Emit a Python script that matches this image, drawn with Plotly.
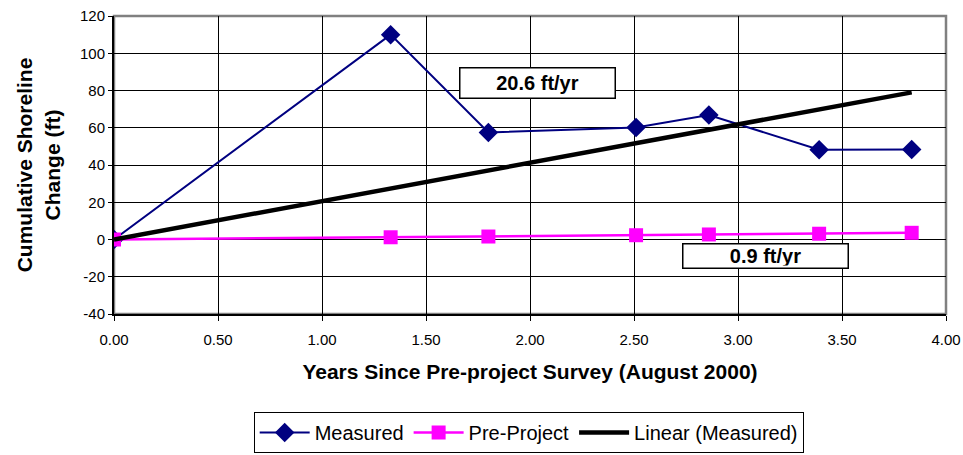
import plotly.graph_objects as go

# Survey times (years since the August 2000 pre-project survey)
years = [0.00, 1.33, 1.80, 2.51, 2.86, 3.39, 3.835]

# Cumulative shoreline change (ft)
measured = [0.0, 110.0, 57.5, 60.2, 66.8, 48.2, 48.3]
pre_project = [0.0, 1.2, 1.6, 2.3, 2.7, 3.1, 3.6]

# Linear trend through the origin for the measured series (ft/yr)
measured_rate = 20.6
pre_project_rate = 0.9
trend = [measured_rate * t for t in years]

x_ticks = [0.0, 0.5, 1.0, 1.5, 2.0, 2.5, 3.0, 3.5, 4.0]
y_ticks = [-40, -20, 0, 20, 40, 60, 80, 100, 120]
y_tick_labels = [str(v) for v in y_ticks]

FONT = "Liberation Sans, Arial, sans-serif"

fig = go.Figure()

fig.add_trace(go.Scatter(
    x=years, y=measured, name="Measured", mode="lines+markers",
    line=dict(color="#000080", width=2),
    marker=dict(symbol="diamond", size=15, color="#000080"),
))
fig.add_trace(go.Scatter(
    x=years, y=pre_project, name="Pre-Project", mode="lines+markers",
    line=dict(color="#FF00FF", width=2.5),
    marker=dict(symbol="square", size=14, color="#FF00FF"),
))
fig.add_trace(go.Scatter(
    x=[years[0], years[-1]], y=[trend[0], trend[-1]],
    name="Linear (Measured)", mode="lines",
    line=dict(color="#000000", width=4.5),
))

# Plot area frame (grey), drawn beneath the black axis lines
fig.add_shape(type="rect", xref="paper", yref="paper", x0=0, x1=1, y0=0, y1=1,
              line=dict(color="#808080", width=2.5), layer="below")

fig.add_annotation(
    x=2.034, y=84, text=f"<b>{measured_rate} ft/yr</b>", showarrow=False,
    font=dict(family=FONT, size=20, color="black"),
    bgcolor="white", bordercolor="black", borderwidth=1.5, borderpad=2,
    width=150, height=25,
)
fig.add_annotation(
    x=3.13, y=-8.6, text=f"<b>{pre_project_rate} ft/yr</b>", showarrow=False,
    font=dict(family=FONT, size=20, color="black"),
    bgcolor="white", bordercolor="black", borderwidth=1.5, borderpad=2,
    width=160, height=19,
)

fig.update_layout(
    width=963, height=455,
    margin=dict(l=114, r=17, t=16, b=141, autoexpand=False),
    paper_bgcolor="white", plot_bgcolor="white",
    font=dict(family=FONT, color="black"),
    showlegend=True,
    legend=dict(
        orientation="h", x=0.549, xref="container", xanchor="center",
        y=0.0945, yref="container", yanchor="top",
        bordercolor="black", borderwidth=1, bgcolor="white",
        font=dict(family=FONT, size=20, color="black"),
        itemwidth=50, tracegroupgap=0,
    ),
    xaxis=dict(
        range=[0, 4], tickvals=x_ticks, tickformat=".2f", automargin=False,
        showgrid=True, gridcolor="black", gridwidth=1,
        zeroline=False, showline=True, linecolor="black", linewidth=2,
        ticks="outside", ticklen=5, tickcolor="black", tickwidth=1,
        ticklabelstandoff=6,
        tickfont=dict(family=FONT, size=15, color="black"),
        title=dict(text="<b>Years Since Pre-project Survey (August 2000)</b>",
                   font=dict(family=FONT, size=21, color="black"), standoff=17),
    ),
    yaxis=dict(
        range=[-40, 120], tickvals=y_ticks, ticktext=y_tick_labels, automargin=False,
        showgrid=True, gridcolor="black", gridwidth=1,
        zeroline=False, showline=True, linecolor="black", linewidth=2,
        ticks="outside", ticklen=4, tickcolor="black", tickwidth=1,
        tickfont=dict(family=FONT, size=15, color="black"),
        title=dict(text="<b>Cumulative Shoreline<br>Change (ft)</b>",
                   font=dict(family=FONT, size=21, color="black"), standoff=14),
    ),
)

fig.write_html("out.html")
